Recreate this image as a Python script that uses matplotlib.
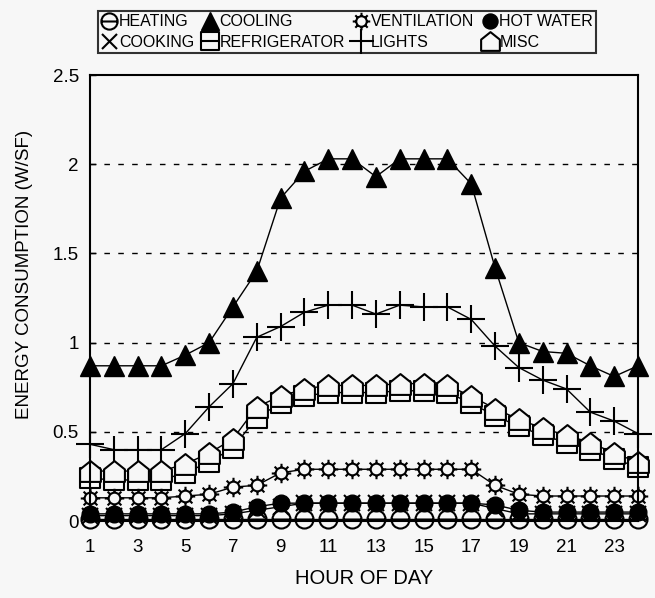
"""Hourly energy consumption profile by end use (W/SF)."""

import numpy as np
import matplotlib
matplotlib.use("Agg")
import matplotlib.pyplot as plt
from matplotlib.path import Path

hours = list(range(1, 25))

heating = [0.01] * 24
cooling = [0.87, 0.87, 0.87, 0.87, 0.93, 1.00, 1.20, 1.40, 1.81, 1.96, 2.03, 2.03,
           1.93, 2.03, 2.03, 2.03, 1.89, 1.42, 1.00, 0.95, 0.94, 0.87, 0.81, 0.87]
ventilation = [0.13, 0.13, 0.13, 0.13, 0.14, 0.15, 0.19, 0.20, 0.27, 0.29, 0.29, 0.29,
               0.29, 0.29, 0.29, 0.29, 0.29, 0.20, 0.15, 0.14, 0.14, 0.14, 0.14, 0.14]
hot_water = [0.04, 0.04, 0.04, 0.04, 0.04, 0.04, 0.05, 0.08, 0.10, 0.10, 0.10, 0.10,
             0.10, 0.10, 0.10, 0.10, 0.10, 0.09, 0.06, 0.05, 0.05, 0.05, 0.05, 0.05]
cooking = [0.03, 0.03, 0.03, 0.03, 0.03, 0.03, 0.04, 0.06, 0.08, 0.10, 0.10, 0.10,
           0.10, 0.10, 0.10, 0.10, 0.10, 0.07, 0.04, 0.04, 0.04, 0.04, 0.04, 0.04]
refrigerator = [0.24, 0.23, 0.23, 0.23, 0.27, 0.33, 0.41, 0.58, 0.66, 0.70, 0.72, 0.72,
                0.72, 0.73, 0.73, 0.72, 0.66, 0.59, 0.53, 0.48, 0.44, 0.40, 0.35, 0.30]
lights = [0.43, 0.40, 0.40, 0.40, 0.49, 0.64, 0.77, 1.03, 1.09, 1.17, 1.21, 1.21,
          1.16, 1.21, 1.20, 1.20, 1.13, 0.98, 0.86, 0.79, 0.74, 0.61, 0.56, 0.49]
misc = [0.28, 0.28, 0.28, 0.28, 0.32, 0.38, 0.46, 0.64, 0.70, 0.74, 0.76, 0.76,
        0.76, 0.77, 0.77, 0.76, 0.70, 0.63, 0.57, 0.52, 0.48, 0.44, 0.38, 0.33]

BG = "#f7f7f7"
FONT = "Liberation Sans"


def _hline():
    return Path([(-1, 0), (1, 0)], [Path.MOVETO, Path.LINETO])


def _circle_line():
    return Path.make_compound_path(Path.unit_circle(), _hline())


def _square_line():
    sq = Path([(-1, -1), (1, -1), (1, 1), (-1, 1), (-1, -1)],
              [Path.MOVETO, Path.LINETO, Path.LINETO, Path.LINETO, Path.CLOSEPOLY])
    return Path.make_compound_path(sq, _hline())


def _sun():
    r0, r1 = 0.6, 1.0
    parts = [Path.circle((0, 0), r0)]
    for a in np.linspace(0, 2 * np.pi, 8, endpoint=False):
        parts.append(Path([(r0 * np.cos(a), r0 * np.sin(a)), (r1 * np.cos(a), r1 * np.sin(a))],
                          [Path.MOVETO, Path.LINETO]))
    return Path.make_compound_path(*parts)


def _house():
    return Path([(-1, -1), (1, -1), (1, 0.2), (0, 1), (-1, 0.2), (-1, -1)],
                [Path.MOVETO, Path.LINETO, Path.LINETO, Path.LINETO, Path.LINETO, Path.CLOSEPOLY])


fig = plt.figure(figsize=(6.55, 5.98), dpi=100)
fig.patch.set_facecolor(BG)
ax = fig.add_axes([90 / 655, 1 - 521 / 598, 548 / 655, 446 / 598])
ax.set_facecolor(BG)

common = dict(color="black", linewidth=1.0, clip_on=False, markeredgecolor="black")
series = [
    ("HEATING", heating, dict(marker=_circle_line(), markersize=13, markerfacecolor=BG, markeredgewidth=1.5)),
    ("COOKING", cooking, dict(marker="x", markersize=12, markeredgewidth=1.5)),
    ("COOLING", cooling, dict(marker="^", markersize=15, markerfacecolor="black")),
    ("REFRIGERATOR", refrigerator, dict(marker=_square_line(), markersize=14, markerfacecolor=BG, markeredgewidth=1.5)),
    ("VENTILATION", ventilation, dict(marker=_sun(), markersize=14, markerfacecolor=BG, markeredgewidth=1.5)),
    ("LIGHTS", lights, dict(marker="+", markersize=20, markeredgewidth=1.5)),
    ("HOT WATER", hot_water, dict(marker="o", markersize=12, markerfacecolor="black")),
    ("MISC", misc, dict(marker=_house(), markersize=15, markerfacecolor=BG, markeredgewidth=1.5)),
]

handles = []
for label, vals, style in series:
    (h,) = ax.plot(hours, vals, label=label, **common, **style)
    handles.append(h)

ax.set_xlim(1, 24)
ax.set_ylim(0, 2.5)
ax.set_xticks(range(1, 24, 2))
ax.set_yticks([0, 0.5, 1, 1.5, 2, 2.5])
ax.set_yticklabels(["0", "0.5", "1", "1.5", "2", "2.5"])
for y in [0.5, 1, 1.5, 2]:
    ax.axhline(y, color="black", linestyle=(0, (4, 6)), linewidth=1.0, zorder=0)

for side in ax.spines.values():
    side.set_linewidth(1.5)
ax.tick_params(direction="in", length=4, width=1, labelsize=13.5)
ax.tick_params(axis="x", pad=13)
ax.tick_params(axis="y", pad=8)
for t in ax.get_xticklabels() + ax.get_yticklabels():
    t.set_fontfamily(FONT)

fig.text(364 / 655, 1 - 578 / 598, "HOUR OF DAY", ha="center", va="center",
         fontsize=14.5, fontfamily=FONT)
fig.text(25 / 655, 1 - 274 / 598, "ENERGY CONSUMPTION (W/SF)", ha="center", va="center",
         rotation=90, fontsize=13.5, fontfamily=FONT)

leg = fig.legend(handles=handles, loc="upper left", bbox_to_anchor=(98 / 655, 1 - 11 / 598),
                 ncol=4, frameon=True, fancybox=False, handlelength=1.0, handletextpad=0.1,
                 columnspacing=0.5, borderpad=0.2, labelspacing=0.35, borderaxespad=0,
                 prop={"family": FONT, "size": 11.5})
leg.get_frame().set_edgecolor("black")
leg.get_frame().set_linewidth(1.5)
leg.get_frame().set_facecolor(BG)
for lh in leg.legend_handles:
    lh.set_linestyle("none")
    lh.set_markersize(lh.get_markersize() * 0.9)

fig.savefig("out.png", dpi=100, facecolor=fig.get_facecolor())
